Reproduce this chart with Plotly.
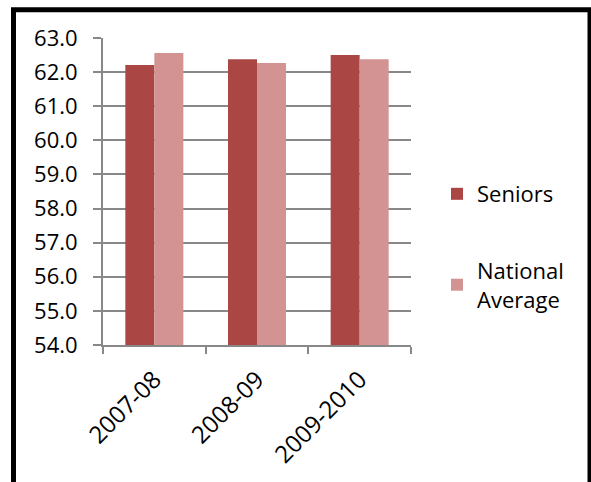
import plotly.graph_objects as go

# School years and percentage values for each series
years = ["2007-08", "2008-09", "2009-2010"]
seniors = [62.21, 62.38, 62.50]
national_average = [62.56, 62.27, 62.38]

# y axis ticks
y_ticks = [54, 55, 56, 57, 58, 59, 60, 61, 62, 63]

W, H = 591, 482
L, R, T, B = 103, 180, 38, 137
FONT = "Open Sans"
FS = 22

fig = go.Figure()
fig.add_trace(go.Bar(
    x=years, y=seniors, name="Seniors",
    marker=dict(color="#AA4745", line=dict(width=0)),
    legendgroup="a",
))
fig.add_trace(go.Bar(
    x=years, y=national_average, name="National<br>Average",
    marker=dict(color="#D29392", line=dict(width=0)),
    legendgroup="b",
))

plot_w = W - L - R
plot_h = H - T - B


def px_x(v):
    return (v - L) / plot_w


def px_y(v):
    return (H - B - v) / plot_h


fig.update_layout(
    width=W, height=H,
    margin=dict(l=L, r=R, t=T, b=B, pad=0),
    paper_bgcolor="white", plot_bgcolor="white",
    barmode="group", bargap=0.435, bargroupgap=0,
    font=dict(family=FONT, size=FS, color="black"),
    showlegend=True,
    legend=dict(
        x=px_x(437), y=px_y(173), xanchor="left", yanchor="top",
        font=dict(family=FONT, size=FS, color="black"),
        tracegroupgap=45, bgcolor="rgba(0,0,0,0)",
        itemwidth=30,
    ),
    xaxis=dict(
        type="category",
        showgrid=False,
        showline=True, linecolor="#888888", linewidth=2,
        ticks="outside", tickson="boundaries", ticklen=7,
        tickcolor="#888888", tickwidth=2,
        tickangle=-45, ticklabelstandoff=9,
        tickfont=dict(family=FONT, size=24, color="black"),
    ),
    yaxis=dict(
        range=[54, 63],
        tickvals=y_ticks, tickformat=".1f",
        showgrid=True, gridcolor="#888888", gridwidth=2,
        showline=True, linecolor="#888888", linewidth=2,
        ticks="outside", ticklen=8, tickcolor="#888888", tickwidth=2,
        ticklabelstandoff=11,
        tickfont=dict(family=FONT, size=FS, color="black"),
        zeroline=False,
    ),
    shapes=[dict(
        type="rect", xref="paper", yref="paper",
        x0=px_x(13.5), x1=px_x(590), y0=px_y(9.7), y1=px_y(520),
        line=dict(color="black", width=5), fillcolor="rgba(0,0,0,0)",
        layer="above",
    )],
)

fig.write_html("out.html")
